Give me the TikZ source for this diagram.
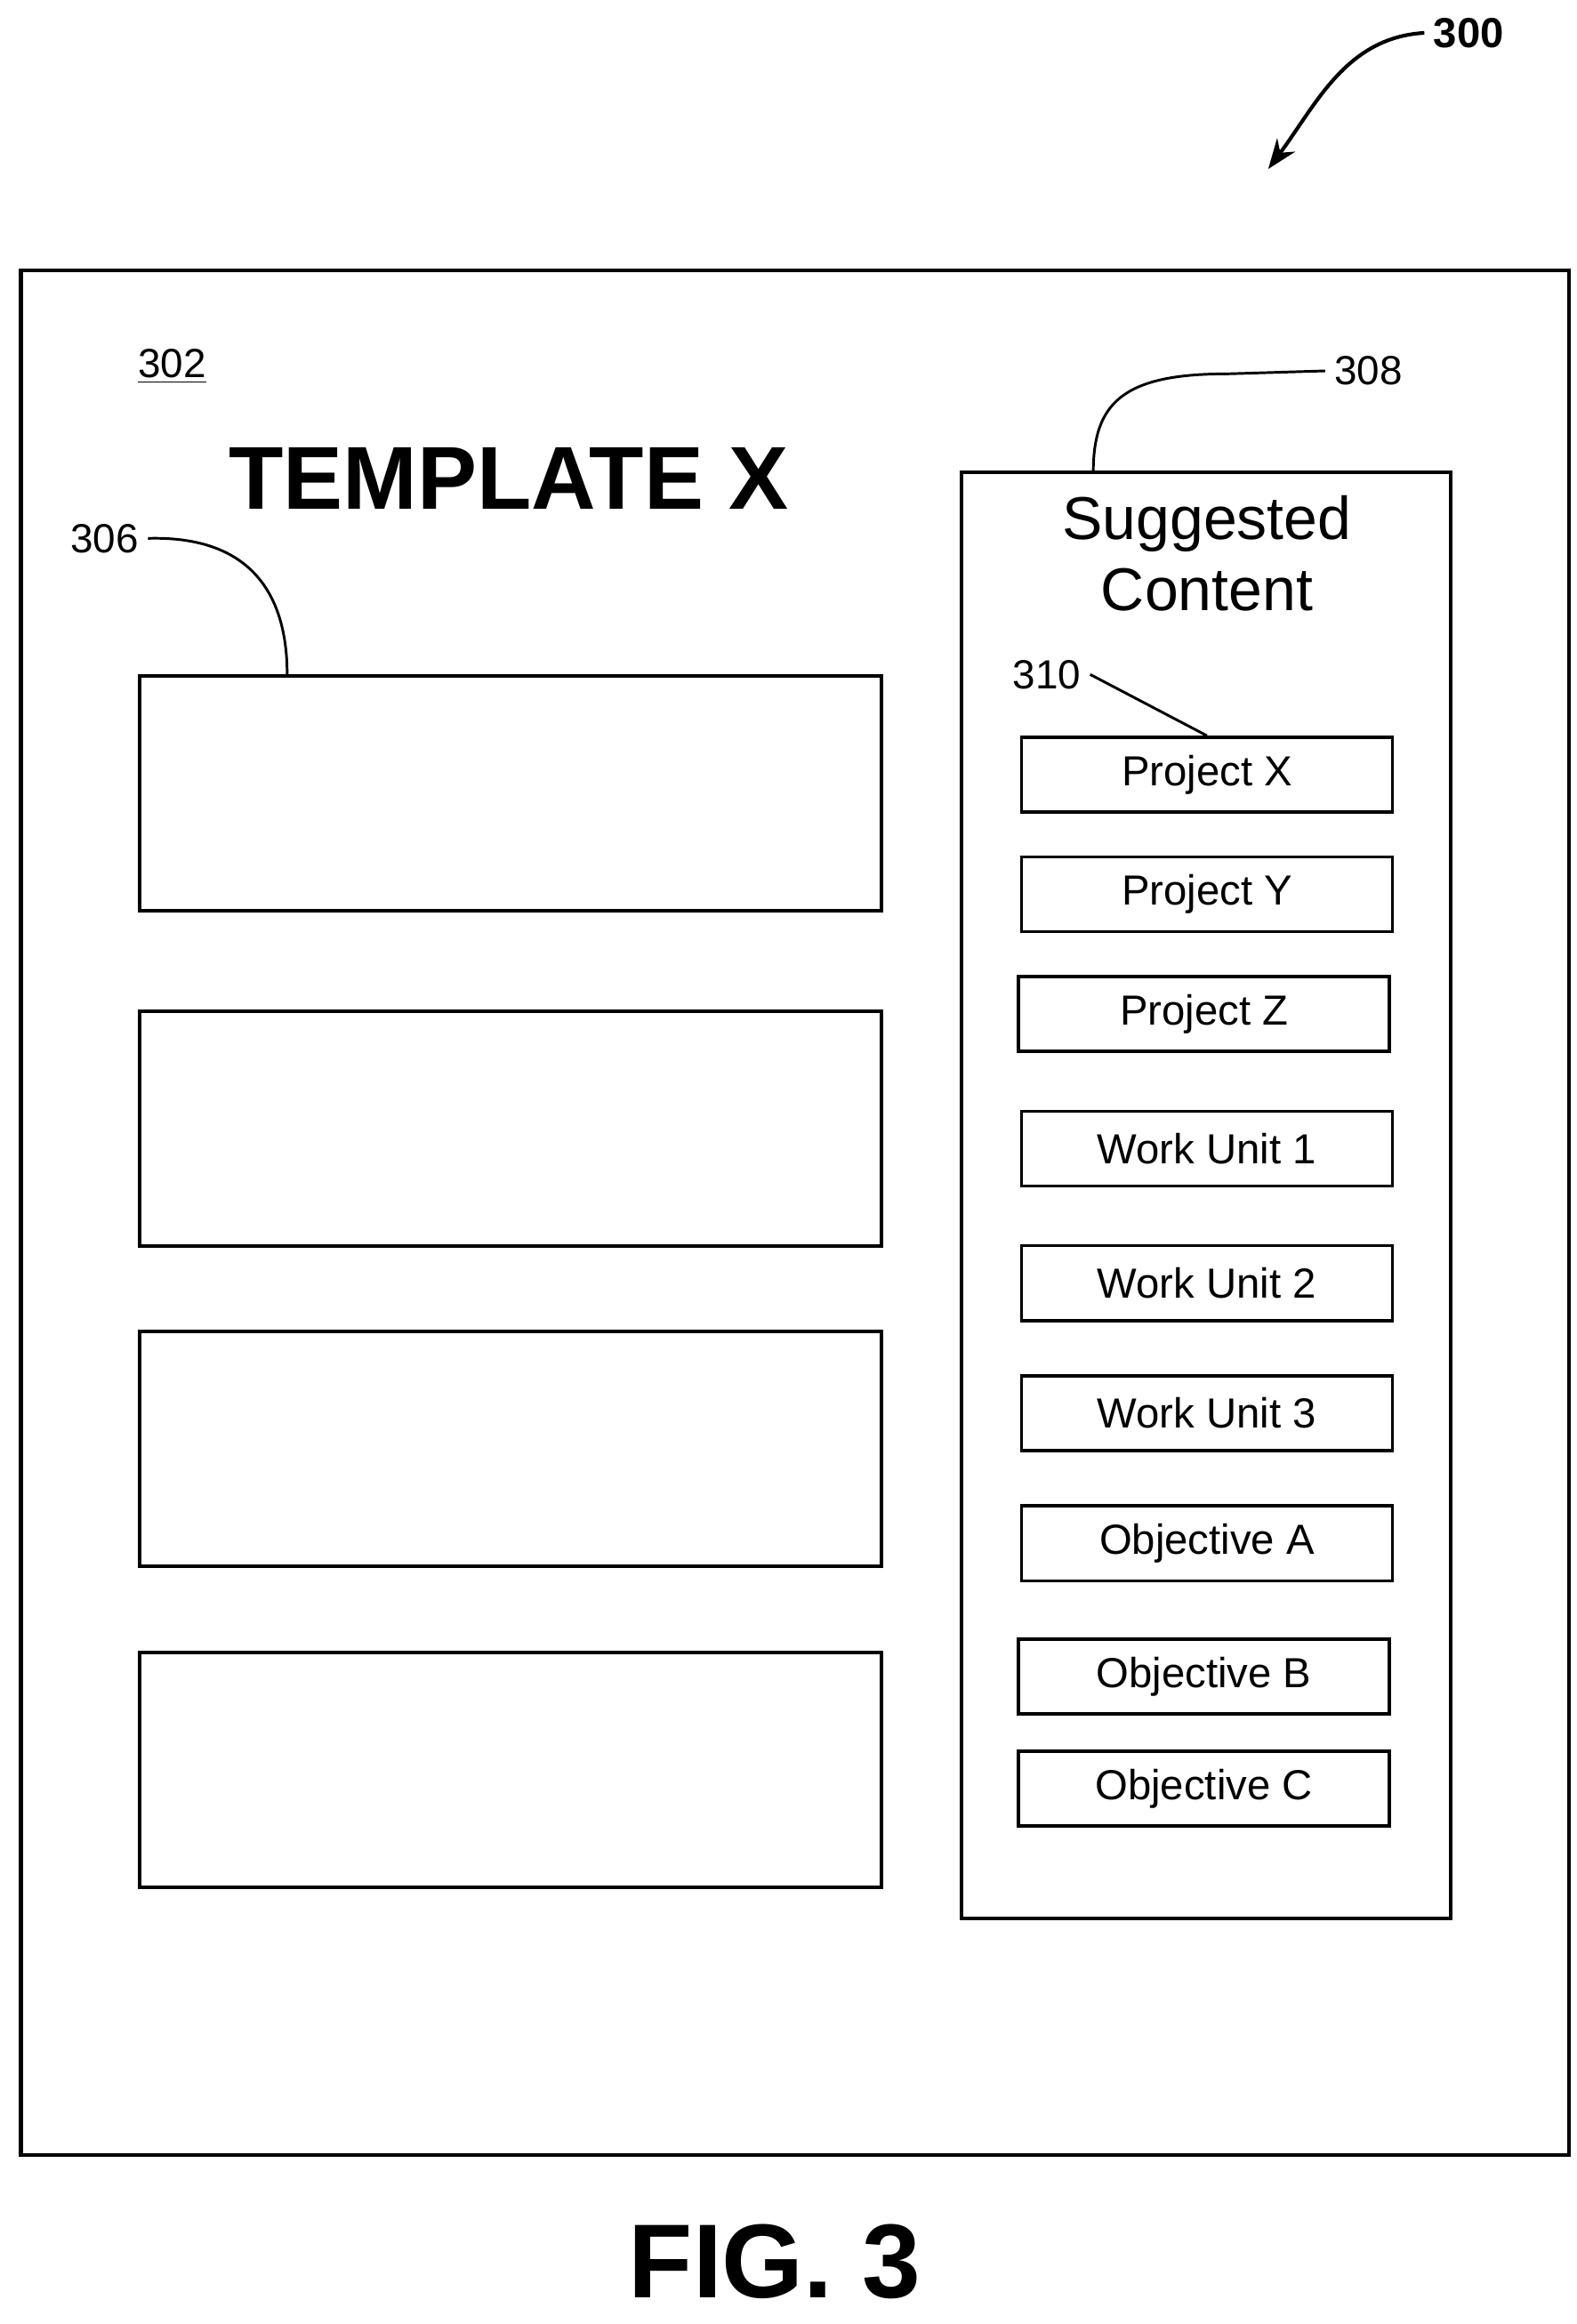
\documentclass[tikz,border=0pt]{standalone}
\usepackage{fontspec}
\setmainfont{Liberation Sans}
\usetikzlibrary{arrows.meta}
\tikzset{
  field/.style={draw, line width=1.4pt, minimum width=9.92cm, minimum height=3.14cm, anchor=north west},
  item/.style={draw, line width=1.2pt, minimum width=4.96cm, minimum height=1cm, font=\fontsize{16}{19}\selectfont},
  refnum/.style={font=\fontsize{15.5}{19}\selectfont},
}
\begin{document}
\begin{tikzpicture}[x=0.2mm,y=-0.2mm]
  \useasboundingbox (0,0) rectangle (1054,1554);

  % Outer frame
  \draw[line width=1.4pt] (14,181) rectangle (1049,1441);
  \node[refnum] (n302) at (115,245) {\underline{302}};
  \node[font=\bfseries\fontsize{34}{38}\selectfont] (title) at (340,320) {TEMPLATE X};

  % Template fields
  \node[field] (f1) at (92,451) {};
  \node[field] (f2) at (92,675) {};
  \node[field] (f3) at (92,889) {};
  \node[field] (f4) at (92,1104) {};
  \node[refnum] (n306) at (70,360) {306};
  \coordinate (c306) at (192,451);
  \draw[line width=1pt] (n306.east) .. controls (170,358) and (192,400) .. (c306);

  % Suggested content panel
  \draw[line width=1.4pt] (643,316) rectangle (970,1283);
  \coordinate (c308) at (731,316);
  \node[align=center, font=\fontsize{23}{27}\selectfont] (sugg) at (807,370) {Suggested\\Content};
  \node[refnum] (n308) at (915,248) {308};
  \draw[line width=1pt] (n308.west) -- (820,250) .. controls (750,250) and (731,270) .. (c308);

  % Suggested items
  \foreach \name/\x/\y/\txt in {px/807/518/Project X, py/807/598/Project Y, pz/805/678/Project Z,
      w1/807/768/Work Unit 1, w2/807/858/Work Unit 2, w3/807/945/Work Unit 3,
      oa/807/1032/Objective A, ob/805/1121/Objective B, oc/805/1196/Objective C}
    \node[item] (\name) at (\x,\y) {\txt};
  \node[refnum] (n310) at (700,451) {310};
  \draw[line width=1pt] (n310.east) -- (px.north);

  % Figure reference
  \node[refnum, font=\bfseries\fontsize{16}{19}\selectfont] (n300) at (982,22) {300};
  \coordinate (a300) at (848,113);
  \draw[line width=1.4pt, -{Stealth[length=4mm]}] (n300.west) .. controls (900,25) and (880,70) .. (a300);

  \node[font=\bfseries\fontsize{40}{44}\selectfont] (fig) at (518,1512) {FIG. 3};
\end{tikzpicture}
\end{document}
